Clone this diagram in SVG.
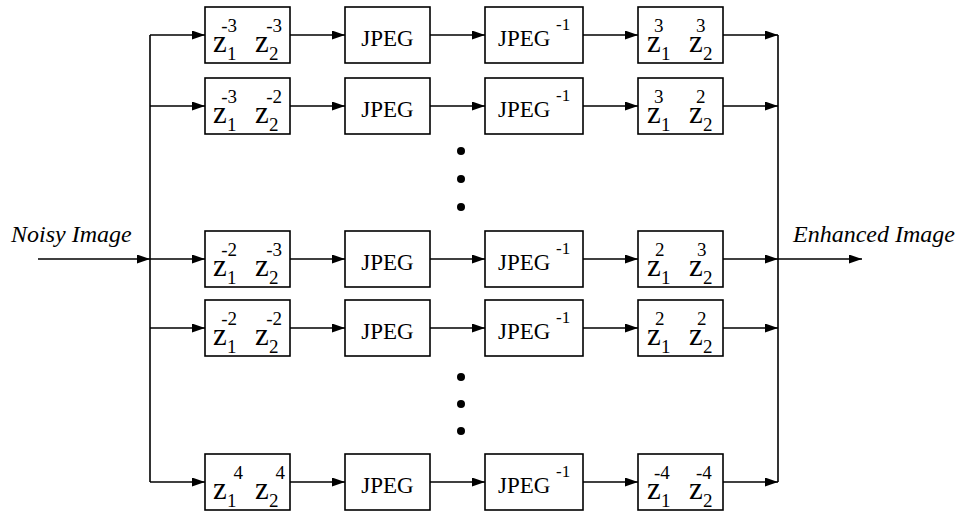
<svg xmlns="http://www.w3.org/2000/svg" width="961" height="514" viewBox="0 0 961 514" style="font-family:'Liberation Serif',serif !important">
<defs>
<marker id="ah" markerWidth="13" markerHeight="9" refX="13" refY="4.5" orient="auto" markerUnits="userSpaceOnUse">
<path d="M0,0 L13,4.5 L0,9 Z" fill="#000"/>
</marker>
</defs>
<rect width="961" height="514" fill="#fff"/>

<g id="connectors" stroke="#000" stroke-width="1.6" fill="none">
<line x1="150" y1="35" x2="150" y2="482"/>
<line x1="778" y1="35" x2="778" y2="482"/>
<g marker-end="url(#ah)">
<line x1="38" y1="259" x2="150" y2="259"/>
<line x1="778" y1="259" x2="862" y2="259"/>
<line x1="150" y1="35" x2="205" y2="35"/>
<line x1="290" y1="35" x2="345" y2="35"/>
<line x1="430" y1="35" x2="485" y2="35"/>
<line x1="583" y1="35" x2="638" y2="35"/>
<line x1="723" y1="35" x2="778" y2="35"/>
<line x1="150" y1="106" x2="205" y2="106"/>
<line x1="290" y1="106" x2="345" y2="106"/>
<line x1="430" y1="106" x2="485" y2="106"/>
<line x1="583" y1="106" x2="638" y2="106"/>
<line x1="723" y1="106" x2="778" y2="106"/>
<line x1="150" y1="259" x2="205" y2="259"/>
<line x1="290" y1="259" x2="345" y2="259"/>
<line x1="430" y1="259" x2="485" y2="259"/>
<line x1="583" y1="259" x2="638" y2="259"/>
<line x1="723" y1="259" x2="778" y2="259"/>
<line x1="150" y1="328" x2="205" y2="328"/>
<line x1="290" y1="328" x2="345" y2="328"/>
<line x1="430" y1="328" x2="485" y2="328"/>
<line x1="583" y1="328" x2="638" y2="328"/>
<line x1="723" y1="328" x2="778" y2="328"/>
<line x1="150" y1="482" x2="205" y2="482"/>
<line x1="290" y1="482" x2="345" y2="482"/>
<line x1="430" y1="482" x2="485" y2="482"/>
<line x1="583" y1="482" x2="638" y2="482"/>
<line x1="723" y1="482" x2="778" y2="482"/>
</g>
</g>

<text x="11" y="242" font-size="24" font-style="italic" style="font-family:'Liberation Serif',serif !important">Noisy Image</text>
<text x="793" y="242" font-size="24" font-style="italic" style="font-family:'Liberation Serif',serif !important">Enhanced Image</text>

<g id="dots" fill="#000">
<circle cx="461" cy="151" r="4"/>
<circle cx="461" cy="179" r="4"/>
<circle cx="461" cy="207" r="4"/>
<circle cx="461" cy="377" r="4"/>
<circle cx="461" cy="404" r="4"/>
<circle cx="461" cy="431" r="4"/>
</g>

<g id="shift1" font-family="Liberation Serif, serif">
<rect x="205" y="7" width="85" height="56" fill="#fff" stroke="#000" stroke-width="1.6"/>
<text x="213" y="52" font-size="31" style="font-family:'Liberation Serif',serif !important">z</text><text x="227" y="60" font-size="19" style="font-family:'Liberation Serif',serif !important">1</text>
<text x="255" y="52" font-size="31" style="font-family:'Liberation Serif',serif !important">z</text><text x="269" y="60" font-size="19" style="font-family:'Liberation Serif',serif !important">2</text>
<text x="237" y="32" font-size="19" text-anchor="end" style="font-family:'Liberation Serif',serif !important">-3</text><text x="282" y="32" font-size="19" text-anchor="end" style="font-family:'Liberation Serif',serif !important">-3</text>
</g>
<g id="jpeg1"><rect x="345" y="7" width="85" height="56" fill="#fff" stroke="#000" stroke-width="1.6"/><text x="387.5" y="46" font-size="23" text-anchor="middle" style="font-family:'Liberation Serif',serif !important">JPEG</text></g>
<g id="ijpeg1"><rect x="485" y="7" width="98" height="56" fill="#fff" stroke="#000" stroke-width="1.6"/><text x="498" y="46" font-size="23" style="font-family:'Liberation Serif',serif !important">JPEG</text><text x="556" y="30" font-size="17" style="font-family:'Liberation Serif',serif !important">-1</text></g>
<g id="unshift1">
<rect x="638" y="7" width="85" height="56" fill="#fff" stroke="#000" stroke-width="1.6"/>
<text x="647" y="52" font-size="31" style="font-family:'Liberation Serif',serif !important">z</text><text x="661" y="60" font-size="19" style="font-family:'Liberation Serif',serif !important">1</text>
<text x="689" y="52" font-size="31" style="font-family:'Liberation Serif',serif !important">z</text><text x="703" y="60" font-size="19" style="font-family:'Liberation Serif',serif !important">2</text>
<text x="654" y="32" font-size="19" style="font-family:'Liberation Serif',serif !important">3</text><text x="696" y="32" font-size="19" style="font-family:'Liberation Serif',serif !important">3</text>
</g>

<g id="shift2">
<rect x="205" y="78" width="85" height="56" fill="#fff" stroke="#000" stroke-width="1.6"/>
<text x="213" y="123" font-size="31" style="font-family:'Liberation Serif',serif !important">z</text><text x="227" y="131" font-size="19" style="font-family:'Liberation Serif',serif !important">1</text>
<text x="255" y="123" font-size="31" style="font-family:'Liberation Serif',serif !important">z</text><text x="269" y="131" font-size="19" style="font-family:'Liberation Serif',serif !important">2</text>
<text x="237" y="103" font-size="19" text-anchor="end" style="font-family:'Liberation Serif',serif !important">-3</text><text x="282" y="103" font-size="19" text-anchor="end" style="font-family:'Liberation Serif',serif !important">-2</text>
</g>
<g id="jpeg2"><rect x="345" y="78" width="85" height="56" fill="#fff" stroke="#000" stroke-width="1.6"/><text x="387.5" y="117" font-size="23" text-anchor="middle" style="font-family:'Liberation Serif',serif !important">JPEG</text></g>
<g id="ijpeg2"><rect x="485" y="78" width="98" height="56" fill="#fff" stroke="#000" stroke-width="1.6"/><text x="498" y="117" font-size="23" style="font-family:'Liberation Serif',serif !important">JPEG</text><text x="556" y="101" font-size="17" style="font-family:'Liberation Serif',serif !important">-1</text></g>
<g id="unshift2">
<rect x="638" y="78" width="85" height="56" fill="#fff" stroke="#000" stroke-width="1.6"/>
<text x="647" y="123" font-size="31" style="font-family:'Liberation Serif',serif !important">z</text><text x="661" y="131" font-size="19" style="font-family:'Liberation Serif',serif !important">1</text>
<text x="689" y="123" font-size="31" style="font-family:'Liberation Serif',serif !important">z</text><text x="703" y="131" font-size="19" style="font-family:'Liberation Serif',serif !important">2</text>
<text x="654" y="103" font-size="19" style="font-family:'Liberation Serif',serif !important">3</text><text x="696" y="103" font-size="19" style="font-family:'Liberation Serif',serif !important">2</text>
</g>

<g id="shift3">
<rect x="205" y="231" width="85" height="56" fill="#fff" stroke="#000" stroke-width="1.6"/>
<text x="213" y="276" font-size="31" style="font-family:'Liberation Serif',serif !important">z</text><text x="227" y="284" font-size="19" style="font-family:'Liberation Serif',serif !important">1</text>
<text x="255" y="276" font-size="31" style="font-family:'Liberation Serif',serif !important">z</text><text x="269" y="284" font-size="19" style="font-family:'Liberation Serif',serif !important">2</text>
<text x="237" y="256" font-size="19" text-anchor="end" style="font-family:'Liberation Serif',serif !important">-2</text><text x="282" y="256" font-size="19" text-anchor="end" style="font-family:'Liberation Serif',serif !important">-3</text>
</g>
<g id="jpeg3"><rect x="345" y="231" width="85" height="56" fill="#fff" stroke="#000" stroke-width="1.6"/><text x="387.5" y="270" font-size="23" text-anchor="middle" style="font-family:'Liberation Serif',serif !important">JPEG</text></g>
<g id="ijpeg3"><rect x="485" y="231" width="98" height="56" fill="#fff" stroke="#000" stroke-width="1.6"/><text x="498" y="270" font-size="23" style="font-family:'Liberation Serif',serif !important">JPEG</text><text x="556" y="254" font-size="17" style="font-family:'Liberation Serif',serif !important">-1</text></g>
<g id="unshift3">
<rect x="638" y="231" width="85" height="56" fill="#fff" stroke="#000" stroke-width="1.6"/>
<text x="647" y="276" font-size="31" style="font-family:'Liberation Serif',serif !important">z</text><text x="661" y="284" font-size="19" style="font-family:'Liberation Serif',serif !important">1</text>
<text x="689" y="276" font-size="31" style="font-family:'Liberation Serif',serif !important">z</text><text x="703" y="284" font-size="19" style="font-family:'Liberation Serif',serif !important">2</text>
<text x="655" y="256" font-size="19" style="font-family:'Liberation Serif',serif !important">2</text><text x="697" y="256" font-size="19" style="font-family:'Liberation Serif',serif !important">3</text>
</g>

<g id="shift4">
<rect x="205" y="300" width="85" height="56" fill="#fff" stroke="#000" stroke-width="1.6"/>
<text x="213" y="345" font-size="31" style="font-family:'Liberation Serif',serif !important">z</text><text x="227" y="353" font-size="19" style="font-family:'Liberation Serif',serif !important">1</text>
<text x="255" y="345" font-size="31" style="font-family:'Liberation Serif',serif !important">z</text><text x="269" y="353" font-size="19" style="font-family:'Liberation Serif',serif !important">2</text>
<text x="237" y="325" font-size="19" text-anchor="end" style="font-family:'Liberation Serif',serif !important">-2</text><text x="282" y="325" font-size="19" text-anchor="end" style="font-family:'Liberation Serif',serif !important">-2</text>
</g>
<g id="jpeg4"><rect x="345" y="300" width="85" height="56" fill="#fff" stroke="#000" stroke-width="1.6"/><text x="387.5" y="339" font-size="23" text-anchor="middle" style="font-family:'Liberation Serif',serif !important">JPEG</text></g>
<g id="ijpeg4"><rect x="485" y="300" width="98" height="56" fill="#fff" stroke="#000" stroke-width="1.6"/><text x="498" y="339" font-size="23" style="font-family:'Liberation Serif',serif !important">JPEG</text><text x="556" y="323" font-size="17" style="font-family:'Liberation Serif',serif !important">-1</text></g>
<g id="unshift4">
<rect x="638" y="300" width="85" height="56" fill="#fff" stroke="#000" stroke-width="1.6"/>
<text x="647" y="345" font-size="31" style="font-family:'Liberation Serif',serif !important">z</text><text x="661" y="353" font-size="19" style="font-family:'Liberation Serif',serif !important">1</text>
<text x="689" y="345" font-size="31" style="font-family:'Liberation Serif',serif !important">z</text><text x="703" y="353" font-size="19" style="font-family:'Liberation Serif',serif !important">2</text>
<text x="655" y="325" font-size="19" style="font-family:'Liberation Serif',serif !important">2</text><text x="697" y="325" font-size="19" style="font-family:'Liberation Serif',serif !important">2</text>
</g>

<g id="shift5">
<rect x="205" y="454" width="85" height="56" fill="#fff" stroke="#000" stroke-width="1.6"/>
<text x="213" y="499" font-size="31" style="font-family:'Liberation Serif',serif !important">z</text><text x="227" y="507" font-size="19" style="font-family:'Liberation Serif',serif !important">1</text>
<text x="255" y="499" font-size="31" style="font-family:'Liberation Serif',serif !important">z</text><text x="269" y="507" font-size="19" style="font-family:'Liberation Serif',serif !important">2</text>
<text x="243" y="479" font-size="19" text-anchor="end" style="font-family:'Liberation Serif',serif !important">4</text><text x="285" y="479" font-size="19" text-anchor="end" style="font-family:'Liberation Serif',serif !important">4</text>
</g>
<g id="jpeg5"><rect x="345" y="454" width="85" height="56" fill="#fff" stroke="#000" stroke-width="1.6"/><text x="387.5" y="493" font-size="23" text-anchor="middle" style="font-family:'Liberation Serif',serif !important">JPEG</text></g>
<g id="ijpeg5"><rect x="485" y="454" width="98" height="56" fill="#fff" stroke="#000" stroke-width="1.6"/><text x="498" y="493" font-size="23" style="font-family:'Liberation Serif',serif !important">JPEG</text><text x="556" y="477" font-size="17" style="font-family:'Liberation Serif',serif !important">-1</text></g>
<g id="unshift5">
<rect x="638" y="454" width="85" height="56" fill="#fff" stroke="#000" stroke-width="1.6"/>
<text x="647" y="499" font-size="31" style="font-family:'Liberation Serif',serif !important">z</text><text x="661" y="507" font-size="19" style="font-family:'Liberation Serif',serif !important">1</text>
<text x="689" y="499" font-size="31" style="font-family:'Liberation Serif',serif !important">z</text><text x="703" y="507" font-size="19" style="font-family:'Liberation Serif',serif !important">2</text>
<text x="654" y="479" font-size="19" style="font-family:'Liberation Serif',serif !important">-4</text><text x="696" y="479" font-size="19" style="font-family:'Liberation Serif',serif !important">-4</text>
</g>
</svg>
